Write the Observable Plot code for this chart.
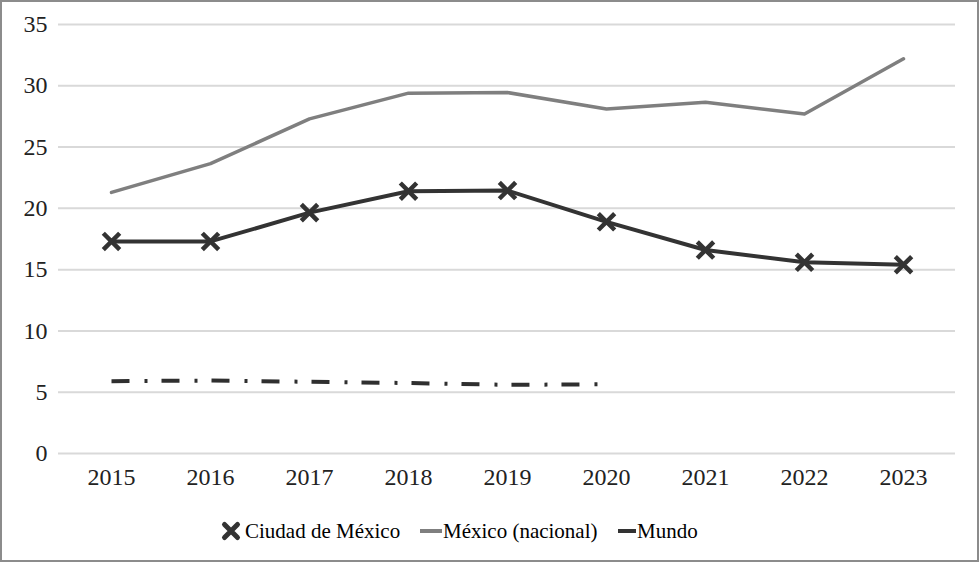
<!DOCTYPE html>
<html>
<head>
<meta charset="utf-8">
<script src="https://cdn.jsdelivr.net/npm/d3@7"></script>
<script src="https://cdn.jsdelivr.net/npm/@observablehq/plot@0.6"></script>
<style>
  html, body { margin: 0; padding: 0; background: #fff; }
  #frame { position: relative; width: 979px; height: 562px; box-sizing: border-box; border: 2px solid #8c8c8c; background: #fff; overflow: hidden; }
  #chart { position: absolute; left: 0; top: 0; }
  .leg { position: absolute; top: 516px; font-family: "Liberation Serif", Tinos, "DejaVu Serif", serif; font-size: 21px; color: #000; line-height: 26px; white-space: nowrap; }
  .mk { position: absolute; }
</style>
</head>
<body>
<div id="frame">
  <div id="chart"></div>
  <svg class="mk" style="left:218px;top:518px" width="22" height="22" viewBox="-11 -11 22 22"><path d="M-6.5,-6.5L6.5,6.5M6.5,-6.5L-6.5,6.5" stroke="#333" stroke-width="5" stroke-linecap="round"/></svg>
  <span class="leg" style="left:243px">Ciudad de México</span>
  <svg class="mk" style="left:418px;top:526px" width="22" height="6"><line x1="0" y1="3" x2="22" y2="3" stroke="#7f7f7f" stroke-width="4"/></svg>
  <span class="leg" style="left:441px">México (nacional)</span>
  <svg class="mk" style="left:616px;top:526px" width="18" height="6"><line x1="0" y1="3" x2="18" y2="3" stroke="#333" stroke-width="4"/></svg>
  <span class="leg" style="left:635px">Mundo</span>
</div>
<script>
const years = [2015, 2016, 2017, 2018, 2019, 2020, 2021, 2022, 2023];
const cdmx = [17.3, 17.3, 19.65, 21.4, 21.45, 18.9, 16.6, 15.6, 15.4];
const nacional = [21.3, 23.65, 27.3, 29.4, 29.45, 28.1, 28.65, 27.7, 32.2];
const mundoYears = [2015, 2016, 2017, 2018, 2019, 2020];
const mundo = [5.9, 5.95, 5.85, 5.75, 5.6, 5.65];
const yTicks = [0, 5, 10, 15, 20, 25, 30, 35];

const cdmxData = years.map((y, i) => ({year: y, value: cdmx[i]}));
const nacData = years.map((y, i) => ({year: y, value: nacional[i]}));
const mundoData = mundoYears.map((y, i) => ({year: y, value: mundo[i]}));

const plot = Plot.plot({
  width: 975,
  height: 500,
  marginLeft: 56,
  marginRight: 22,
  marginTop: 22,
  marginBottom: 49,
  style: { fontFamily: '"Liberation Serif", Tinos, "DejaVu Serif", serif', fontSize: "24px", color: "#222", background: "#fff" },
  x: { type: "point", domain: years, padding: 0.5, label: null },
  y: { domain: [0, 35], label: null },
  marks: [
    Plot.ruleY(yTicks, { stroke: "#d9d9d9", strokeWidth: 2 }),
    Plot.axisY({ ticks: yTicks, tickSize: 0, tickPadding: 11, label: null, fill: "#222" }),
    Plot.axisX({ tickSize: 0, tickPadding: 14, tickFormat: d => String(d), label: null, fill: "#222" }),
    Plot.line(mundoData, { x: "year", y: "value", stroke: "#2f2f2f", strokeWidth: 4, strokeDasharray: "18,15,3,14", strokeLinecap: "butt" }),
    Plot.line(nacData, { x: "year", y: "value", stroke: "#7f7f7f", strokeWidth: 3.5 }),
    Plot.line(cdmxData, { x: "year", y: "value", stroke: "#333", strokeWidth: 4 }),
    Plot.dot(cdmxData, { x: "year", y: "value", symbol: "times", r: 7.5, stroke: "#333", strokeWidth: 4.5 })
  ]
});
document.getElementById("chart").appendChild(plot);
</script>
</body>
</html>
